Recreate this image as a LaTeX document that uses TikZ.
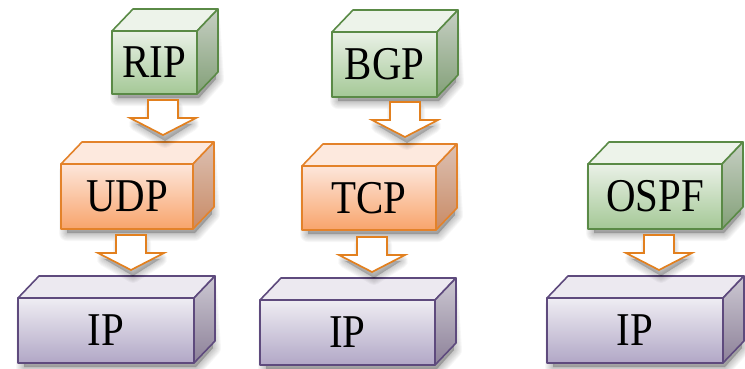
\documentclass[tikz,border=0pt]{standalone}
\usepackage{fontspec}
\setmainfont{Liberation Serif}[FakeStretch=0.87]
\usetikzlibrary{calc,backgrounds}

% face colours of the three kinds of blocks
\definecolor{grnline}{HTML}{5A8A46}
\definecolor{grnfronttop}{HTML}{EAF1E7}
\definecolor{grnfrontbot}{HTML}{A4C896}
\definecolor{grnlid}{HTML}{EDF3EA}
\definecolor{grnsidetop}{HTML}{C6CFC3}
\definecolor{grnsidebot}{HTML}{83A078}
\definecolor{orgline}{HTML}{E3822A}
\definecolor{orgfronttop}{HTML}{FDE6DB}
\definecolor{orgfrontbot}{HTML}{F8A46B}
\definecolor{orglid}{HTML}{FDE9DE}
\definecolor{orgsidetop}{HTML}{DCC0B2}
\definecolor{orgsidebot}{HTML}{C98B66}
\definecolor{purline}{HTML}{5E4A7D}
\definecolor{purfronttop}{HTML}{EFEDF3}
\definecolor{purfrontbot}{HTML}{B1A7C6}
\definecolor{purlid}{HTML}{ECE9F0}
\definecolor{pursidetop}{HTML}{CCC8D2}
\definecolor{pursidebot}{HTML}{8D8199}
\definecolor{arrline}{HTML}{E2801F}

\tikzset{
  front/.style={draw, line width=1.6pt, line join=round, inner sep=0pt, outer sep=0pt,
    anchor=north west, font=\fontsize{47}{50}\selectfont},
  greenfront/.style={front, draw=grnline, top color=grnfronttop, bottom color=grnfrontbot},
  orangefront/.style={front, draw=orgline, top color=orgfronttop, bottom color=orgfrontbot},
  purplefront/.style={front, draw=purline, top color=purfronttop, bottom color=purfrontbot},
  facet/.style={line width=1.6pt, line join=round},
  softshade/.style={black, opacity=0.03, line width=#1, line join=round},
  blockarrow/.pic={
    % soft shadow under the head
    \foreach \w in {2,4,...,14}
      \filldraw[softshade=\w pt] (-11,8) -- (13,8) -- (13,24) -- (29,24) -- (2,41)
        -- (-27,24) -- (-11,24) -- cycle;
    \draw[line width=1.7pt, draw=arrline, fill=white, line join=miter]
      (-15,0) -- (15,0) -- (15,18) -- (33,18) -- (0,35) -- (-33,18) -- (-15,18) -- cycle;
  },
}

% lid, right side and soft shadow of a block whose front face is node #1
\newcommand\boxfaces[5]{%
  \draw[facet, draw=#2, fill=#3] (#1.north west) -- ++(21,-22)
    -- ($(#1.north east)+(21,-22)$) -- (#1.north east) -- cycle;
  \draw[facet, draw=#2, top color=#4, bottom color=#5] (#1.north east) -- ++(21,-22)
    -- ($(#1.south east)+(21,-22)$) -- (#1.south east) -- cycle;
  \begin{scope}[on background layer]
    \foreach \w in {2,4,...,16}
      \filldraw[softshade=\w pt] ($(#1.north west)+(6,8)$) -- ($(#1.north east)+(15,-10)$)
        -- ($(#1.south east)+(19,-15)$) -- ($(#1.south east)+(2,4)$)
        -- ($(#1.south west)+(6,4)$) -- cycle;
  \end{scope}
}

\begin{document}
\begin{tikzpicture}[x=1pt, y=-1pt]
\useasboundingbox (0,0) rectangle (745,368);

% routing protocols
\node[greenfront, minimum width=85pt, minimum height=63pt] (rip) at (112,31) {RIP};
\boxfaces{rip}{grnline}{grnlid}{grnsidetop}{grnsidebot}
\node[greenfront, minimum width=105pt, minimum height=65pt] (bgp) at (332,32) {BGP};
\boxfaces{bgp}{grnline}{grnlid}{grnsidetop}{grnsidebot}
\node[greenfront, minimum width=134pt, minimum height=65pt] (ospf) at (588,164) {OSPF};
\boxfaces{ospf}{grnline}{grnlid}{grnsidetop}{grnsidebot}

% transport protocols
\node[orangefront, minimum width=132pt, minimum height=65pt] (udp) at (61,164) {UDP};
\boxfaces{udp}{orgline}{orglid}{orgsidetop}{orgsidebot}
\node[orangefront, minimum width=134pt, minimum height=64pt] (tcp) at (302,166) {TCP};
\boxfaces{tcp}{orgline}{orglid}{orgsidetop}{orgsidebot}

% network layer
\node[purplefront, minimum width=176pt, minimum height=65pt] (ip1) at (18,298) {IP};
\boxfaces{ip1}{purline}{purlid}{pursidetop}{pursidebot}
\node[purplefront, minimum width=175pt, minimum height=65pt] (ip2) at (260,300) {IP};
\boxfaces{ip2}{purline}{purlid}{pursidetop}{pursidebot}
\node[purplefront, minimum width=176pt, minimum height=65pt] (ip3) at (547,298) {IP};
\boxfaces{ip3}{purline}{purlid}{pursidetop}{pursidebot}

% hollow arrows between the layers
\coordinate (ripudp) at (163,100);
\coordinate (udpip) at (131,235);
\coordinate (bgptcp) at (405,102);
\coordinate (tcpip) at (372,237);
\coordinate (ospfip) at (659,235);
\pic at (ripudp) {blockarrow};
\pic at (udpip) {blockarrow};
\pic at (bgptcp) {blockarrow};
\pic at (tcpip) {blockarrow};
\pic at (ospfip) {blockarrow};
\end{tikzpicture}
\end{document}
